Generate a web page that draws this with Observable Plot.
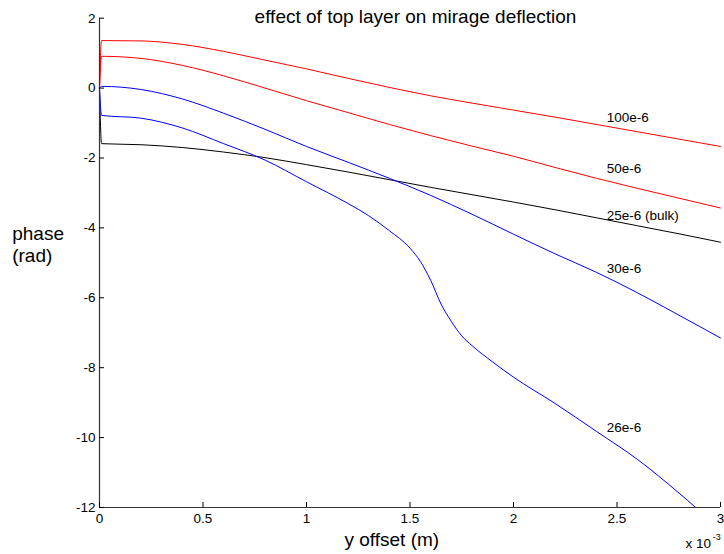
<!DOCTYPE html>
<html>
<head>
<meta charset="utf-8">
<script src="https://cdn.jsdelivr.net/npm/d3@7"></script>
<script src="https://cdn.jsdelivr.net/npm/@observablehq/plot@0.6"></script>
<style>
  html, body { margin: 0; padding: 0; background: #fff; }
  #chart { width: 724px; height: 554px; }
</style>
</head>
<body>
<div id="chart"></div>
<script>
// ---- data (x in units of 1e-3 m, phase in rad) ----
const seriesNames = ["100e-6", "50e-6", "25e-6 (bulk)", "30e-6", "26e-6"];
const seriesColors = ["#ff0000", "#ff0000", "#000000", "#0000ff", "#0000ff"];

const xGrid = [0, 0.01, 0.2, 0.4, 0.6, 0.8, 1.0, 1.2, 1.4, 1.6, 1.8, 2.0, 2.2, 2.4, 2.6, 2.8, 3.0];
const phase100 = [0, 1.36, 1.35, 1.25, 1.05, 0.80, 0.55, 0.28, 0.02, -0.22, -0.43, -0.63, -0.83, -1.04, -1.25, -1.46, -1.67];
const phase50 = [0, 0.91, 0.85, 0.65, 0.35, 0.0, -0.36, -0.70, -1.04, -1.36, -1.66, -1.95, -2.27, -2.58, -2.87, -3.15, -3.43];
const phaseBulk = [0, -1.59, -1.62, -1.70, -1.83, -1.99, -2.19, -2.40, -2.62, -2.84, -3.05, -3.26, -3.48, -3.71, -3.94, -4.17, -4.41];
const phase30 = [0, 0.05, -0.04, -0.31, -0.72, -1.18, -1.67, -2.12, -2.58, -3.07, -3.61, -4.18, -4.74, -5.27, -5.86, -6.50, -7.15];

const x26 = [0, 0.01, 0.2, 0.4, 0.6, 0.8, 1.0, 1.2, 1.3, 1.4, 1.5, 1.55, 1.6, 1.65, 1.7, 1.75, 1.8, 1.9, 2.0, 2.2, 2.4, 2.6, 2.8, 2.88];
const phase26 = [0, -0.78, -0.86, -1.14, -1.59, -2.06, -2.68, -3.30, -3.65, -4.08, -4.58, -4.96, -5.50, -6.18, -6.68, -7.09, -7.37, -7.84, -8.27, -9.02, -9.82, -10.63, -11.59, -12.0];

const xTicks = [0, 0.5, 1, 1.5, 2, 2.5, 3];
const yTicks = [-12, -10, -8, -6, -4, -2, 0, 2];

// curve annotation anchors (data units)
const labelX = [2.45, 2.45, 2.45, 2.45, 2.45];
const labelY = [-0.97, -2.43, -3.76, -5.30, -9.84];

const titleText = "effect of top layer on mirage deflection";
const yLabelText = "phase\n(rad)";
const xLabelText = "y offset (m)";

// ---- build table ----
const seriesData = [[xGrid, phase100], [xGrid, phase50], [xGrid, phaseBulk], [xGrid, phase30], [x26, phase26]];
const rows = [];
seriesData.forEach(([xs, ys], i) => {
  ys.forEach((y, j) => rows.push({series: seriesNames[i], x: xs[j], y}));
});

const font = "'Liberation Sans', Arial, Helvetica, sans-serif";

const chart = Plot.plot({
  width: 724,
  height: 554,
  marginLeft: 99,
  marginRight: 4,
  marginTop: 17.7,
  marginBottom: 47,
  style: {fontFamily: font, fontSize: "13.5px", color: "#000", background: "#fff", overflow: "visible"},
  x: {domain: [0, 3], label: null},
  y: {domain: [-12, 2], label: null},
  color: {domain: seriesNames, range: seriesColors},
  marks: [
    Plot.line(rows, {x: "x", y: "y", z: "series", stroke: "series", strokeWidth: 1, curve: "monotone-x"}),
    Plot.ruleX([0], {stroke: "#333", strokeWidth: 1.2}),
    Plot.ruleY([-12], {stroke: "#333", strokeWidth: 1.2}),
    Plot.axisY({ticks: yTicks, tickSize: 5, dx: 5, tickPadding: 4, tickFormat: d => String(d), label: null}),
    Plot.axisX({ticks: xTicks, tickSize: 5, dy: -5, tickPadding: 6, tickFormat: d => String(d), label: null}),
    Plot.text(seriesNames, {x: labelX, y: labelY, text: d => d, textAnchor: "start", lineAnchor: "bottom", fontSize: 13.5, fill: "#000"}),
    Plot.text([titleText], {text: d => d, frameAnchor: "top", dx: 5.5, dy: 5, lineAnchor: "bottom", fontSize: 19, fill: "#000"}),
    Plot.text([yLabelText], {text: d => d, frameAnchor: "left", dx: -87.3, dy: -0.65, textAnchor: "start", lineAnchor: "bottom", lineHeight: 1.18, fontSize: 19, fill: "#000"}),
    Plot.text([xLabelText], {text: d => d, frameAnchor: "bottom", dx: -18.2, dy: 38, lineAnchor: "bottom", fontSize: 19, fill: "#000"}),
    Plot.text(["x 10"], {text: d => d, frameAnchor: "bottom-right", textAnchor: "start", dx: -35, dy: 40.3, lineAnchor: "bottom", fontSize: 13.5, fill: "#000"}),
    Plot.text(["-3"], {text: d => d, frameAnchor: "bottom-right", textAnchor: "start", dx: -7.7, dy: 32.3, lineAnchor: "bottom", fontSize: 9, fill: "#000"})
  ]
});

document.getElementById("chart").appendChild(chart);
</script>
</body>
</html>
